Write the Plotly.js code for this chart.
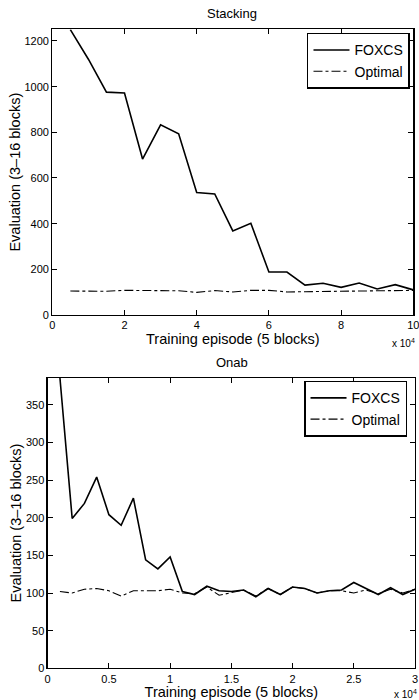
<!DOCTYPE html>
<html>
<head>
<meta charset="utf-8">
<script src="https://cdn.plot.ly/plotly-3.0.1.min.js"></script>
<style>html,body{margin:0;padding:0;background:#fff;}#chart{width:419px;height:700px;}</style>
</head>
<body>
<div id="chart"></div>
<script>
// Training episode, in units of 10^4
const stackX = [0.5,1,1.5,2,2.5,3,3.5,4,4.5,5,5.5,6,6.5,7,7.5,8,8.5,9,9.5,10];
const stackFoxcs = [1250,1120,976,972,683,833,794,536,530,368,402,188,188,131,139,121,140,114,133,110];
const stackOptimal = [105,104,104,108,108,106,106,99,107,101,108,108,101,102,103,102,104,106,108,108];

const onabX = [0.1,0.2,0.3,0.4,0.5,0.6,0.7,0.8,0.9,1.0,1.1,1.2,1.3,1.4,1.5,1.6,1.7,1.8,1.9,2.0,2.1,2.2,2.3,2.4,2.5,2.6,2.7,2.8,2.9,3.0];
const onabFoxcs = [386,199,219,254,204,190,226,144,132,148,102,98,109,103,102,104,95,106,98,108,106,100,103,104,114,106,98,107,98,105];
const onabOptimal = [102,100,105,106,103,96,103,103,103,105,100,99,108,97,101,104,96,106,98,108,106,100,103,103,100,104,99,105,100,105];

const stackXTicks = [0,2,4,6,8,10];
const stackYTicks = [0,200,400,600,800,1000,1200];
const onabXTicks = [0,0.5,1,1.5,2,2.5,3];
const onabYTicks = [0,50,100,150,200,250,300,350];

const FONT = 'Liberation Sans, Arial, Helvetica, sans-serif';

const traces = [
  {x: stackX, y: stackFoxcs, name: 'FOXCS', type: 'scatter', mode: 'lines',
   line: {color: '#000', width: 1.6}, xaxis: 'x', yaxis: 'y', legend: 'legend'},
  {x: stackX, y: stackOptimal, name: 'Optimal', type: 'scatter', mode: 'lines',
   line: {color: '#000', width: 1.1, dash: 'dashdot'}, xaxis: 'x', yaxis: 'y', legend: 'legend'},
  {x: onabX, y: onabFoxcs, name: 'FOXCS', type: 'scatter', mode: 'lines',
   line: {color: '#000', width: 1.6}, xaxis: 'x2', yaxis: 'y2', legend: 'legend2'},
  {x: onabX, y: onabOptimal, name: 'Optimal', type: 'scatter', mode: 'lines',
   line: {color: '#000', width: 1.1, dash: 'dashdot'}, xaxis: 'x2', yaxis: 'y2', legend: 'legend2'}
];

function axisBase(extra) {
  return Object.assign({
    showgrid: false, zeroline: false, showline: true, mirror: 'ticks',
    linecolor: '#000', linewidth: 1.2, ticks: 'inside', ticklen: 5, tickwidth: 1,
    tickcolor: '#000', tickfont: {family: FONT, size: 11, color: '#000'},
    ticklabeloverflow: 'allow', automargin: false,
    fixedrange: true
  }, extra);
}

const legendBase = {
  font: {family: FONT, size: 14, color: '#000'},
  bordercolor: '#000', borderwidth: 1.5, bgcolor: '#fff',
  xanchor: 'right', yanchor: 'top', tracegroupgap: 0, itemwidth: 36
};

const layout = {
  width: 419, height: 700,
  margin: {l: 0, r: 0, t: 0, b: 0},
  paper_bgcolor: '#fff', plot_bgcolor: '#fff',
  font: {family: FONT, color: '#000'},
  xaxis: axisBase({domain: [0.1248, 0.9864], anchor: 'y', range: [0, 10],
    tickvals: stackXTicks, ticktext: stackXTicks.map(String),
    title: {text: 'Training episode (5 blocks)', font: {family: FONT, size: 14.5}, standoff: 2}}),
  yaxis: axisBase({domain: [0.55, 0.9581], anchor: 'x', range: [0, 1251],
    tickvals: stackYTicks, ticktext: stackYTicks.map(String),
    title: {text: 'Evaluation (3\u201316 blocks)', font: {family: FONT, size: 14.5}, standoff: 0}}),
  xaxis2: axisBase({domain: [0.1138, 0.9905], anchor: 'y2', range: [0, 3],
    tickvals: onabXTicks, ticktext: onabXTicks.map(String),
    title: {text: 'Training episode (5 blocks)', font: {family: FONT, size: 14.5}, standoff: 2}}),
  yaxis2: axisBase({domain: [0.0453, 0.4604], anchor: 'x2', range: [0, 386],
    tickvals: onabYTicks, ticktext: onabYTicks.map(String),
    title: {text: 'Evaluation (3\u201316 blocks)', font: {family: FONT, size: 14.5}, standoff: 0}}),
  legend: Object.assign({x: 0.9785, y: 0.953}, legendBase),
  legend2: Object.assign({x: 0.9714, y: 0.456}, legendBase),
  showlegend: true,
  annotations: [
    {text: 'Stacking', xref: 'paper', yref: 'paper', x: 0.553, y: 1 - 13/700,
     xanchor: 'center', yanchor: 'middle', showarrow: false, font: {family: FONT, size: 13}},
    {text: 'Onab', xref: 'paper', yref: 'paper', x: 0.553, y: 1 - 362/700,
     xanchor: 'center', yanchor: 'middle', showarrow: false, font: {family: FONT, size: 13}},
    {text: 'x 10<sup>4</sup>', xref: 'paper', yref: 'paper', x: 403/419, y: 1 - 343/700,
     xanchor: 'center', yanchor: 'middle', showarrow: false, font: {family: FONT, size: 10}},
    {text: 'x 10<sup>4</sup>', xref: 'paper', yref: 'paper', x: 405/419, y: 1 - 694/700,
     xanchor: 'center', yanchor: 'middle', showarrow: false, font: {family: FONT, size: 10}}
  ]
};

Plotly.newPlot('chart', traces, layout, {staticPlot: true, displayModeBar: false});
</script>
</body>
</html>
